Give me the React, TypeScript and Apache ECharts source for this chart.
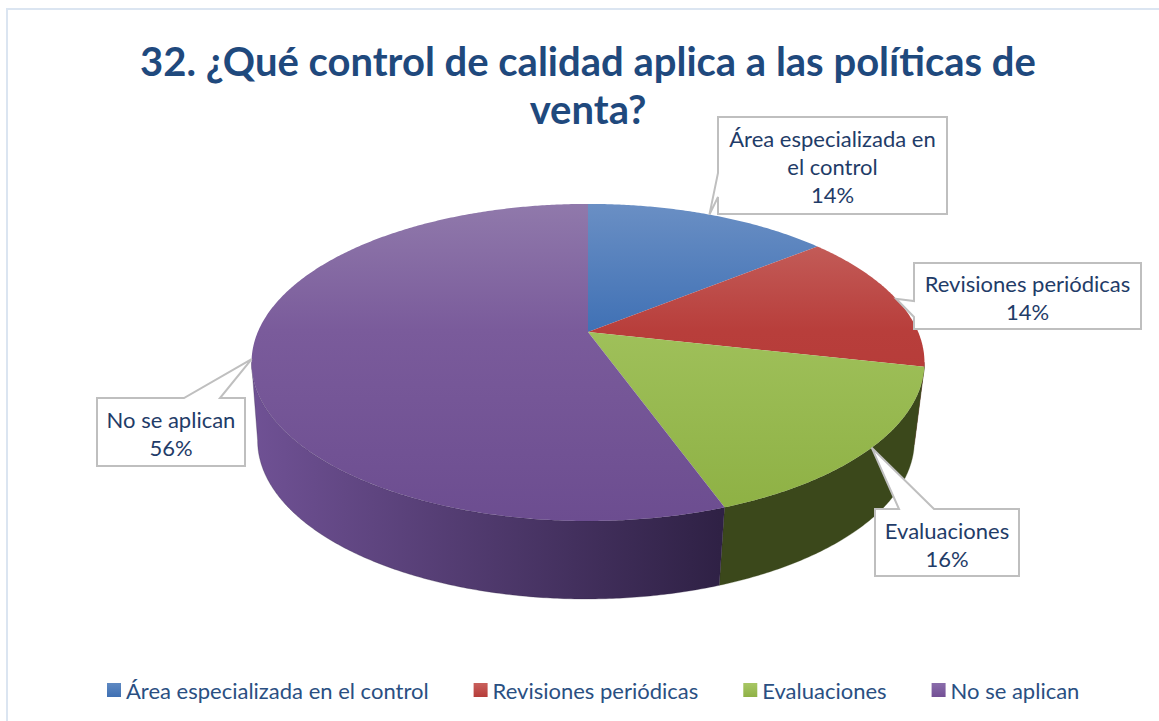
import React, { useEffect, useRef } from "react";
import * as echarts from "echarts";

const titleText = "32. ¿Qué control de calidad aplica a las políticas de\nventa?";
const categories = ["Área especializada en el control", "Revisiones periódicas", "Evaluaciones", "No se aplican"];
const wrappedNames = ["Área especializada en\nel control", "Revisiones periódicas", "Evaluaciones", "No se aplican"];
const shares = [14.2, 14.3, 16.0, 55.5];

const topStops = [
  ["#6a8fc4", "#4071b5", "#3a6aad"],
  ["#c86a66", "#b83e3b", "#b03533"],
  ["#aacb66", "#9fc05a", "#8db043"],
  ["#9079ab", "#7a5b9b", "#6c4d90"],
];
const sideStops = [
  ["#2e4a70", "#2e4a70"],
  ["#6e2523", "#6e2523"],
  ["#3f4e1e", "#3b481b"],
  ["#6f5194", "#2f2145"],
];
const legendStops = [
  ["#5f89c2", "#3f70b3"],
  ["#c9605c", "#b53c39"],
  ["#a8c765", "#8fb146"],
  ["#8a6dab", "#734f95"],
];

// Perspective ellipse geometry of the pie disc
const geo = { cx: 588, cy: 332, A: 330.2, B: 152.7, k: -0.192, depth: 78, shrink: 0.976, shiftX: -2 };

// Callout boxes: box [x0,y0,x1,y1], edge the pointer leaves from, pointer base along that edge
const callouts = [
  { box: [718, 117, 947, 214], edge: "left", base: [173, 197], textY: 166 },
  { box: [914, 263, 1141, 329], edge: "left", base: [301, 317], textY: 297 },
  { box: [875, 509, 1019, 576], edge: "top", base: [899, 934], textY: 544 },
  { box: [97, 398, 245, 466], edge: "top", base: [184, 220], textY: 433 },
];

const total = shares.reduce((a, b) => a + b, 0);
const cum: number[] = [0];
shares.forEach((v) => cum.push(cum[cum.length - 1] + v));
const angleOf = (c: number) => (c / total) * 360;

function topPoint(deg: number): [number, number] {
  const r = (deg * Math.PI) / 180;
  const X = Math.sin(r);
  const Y = -Math.cos(r);
  const d = 1 + geo.k * Y;
  return [geo.cx + (geo.A * X) / d, geo.cy + (geo.B * Y) / d];
}
function bottomPoint(deg: number): [number, number] {
  const [x, y] = topPoint(deg);
  return [geo.cx + geo.shiftX + geo.shrink * (x - geo.cx), y + geo.depth];
}
function arc(a0: number, a1: number, fn: (d: number) => [number, number]) {
  const pts: [number, number][] = [];
  const n = Math.max(2, Math.ceil(Math.abs(a1 - a0) * 2));
  for (let i = 0; i <= n; i++) pts.push(fn(a0 + ((a1 - a0) * i) / n));
  return pts;
}
const vGrad = (c: string[]) => ({
  type: "linear", x: 0, y: 204, x2: 0, y2: 521, global: true,
  colorStops: [{ offset: 0, color: c[0] }, { offset: 0.4, color: c[1] }, { offset: 1, color: c[2] }],
});
const hGrad = (c: string[]) => ({
  type: "linear", x: 255, y: 0, x2: 720, y2: 0, global: true,
  colorStops: [{ offset: 0, color: c[0] }, { offset: 1, color: c[1] }],
});
const localGrad = (c: string[]) => ({
  type: "linear", x: 0, y: 0, x2: 0, y2: 1,
  colorStops: [{ offset: 0, color: c[0] }, { offset: 1, color: c[1] }],
});

const SIDE_FROM = 101;
const SIDE_TO = 259;

function sliceRenderer(i: number) {
  return () => {
    const a0 = angleOf(cum[i]);
    const a1 = angleOf(cum[i + 1]);
    const children: any[] = [];
    const s0 = Math.max(a0, SIDE_FROM);
    const s1 = Math.min(a1, SIDE_TO);
    if (s1 > s0) {
      const pts = [...arc(s0, s1, topPoint), ...arc(s1, s0, bottomPoint)];
      children.push({
        type: "polygon",
        shape: { points: pts },
        style: { fill: hGrad(sideStops[i]), stroke: sideStops[i][1], lineWidth: 0.3 },
      });
    }
    children.push({
      type: "polygon",
      shape: { points: [[geo.cx, geo.cy], ...arc(a0, a1, topPoint)] },
      style: { fill: vGrad(topStops[i]) },
    });
    return { type: "group", children };
  };
}

function calloutRenderer() {
  return (params: any) => {
    const i = params.dataIndex;
    const c = callouts[i];
    const [x0, y0, x1, y1] = c.box;
    const tip = topPoint(angleOf((cum[i] + cum[i + 1]) / 2));
    const pts: number[][] =
      c.edge === "left"
        ? [[x0, y0], [x1, y0], [x1, y1], [x0, y1], [x0, c.base[1]], tip, [x0, c.base[0]]]
        : [[x0, y0], [c.base[0], y0], tip, [c.base[1], y0], [x1, y0], [x1, y1], [x0, y1]];
    const pct = Math.round((shares[i] / total) * 100);
    return {
      type: "group",
      children: [
        {
          type: "polygon",
          shape: { points: pts },
          style: { fill: "#ffffff", stroke: "#bfbfbf", lineWidth: 2 },
        },
        {
          type: "text",
          style: {
            text: `${wrappedNames[i]}\n${pct}%`,
            x: (x0 + x1) / 2,
            y: c.textY,
            align: "center",
            verticalAlign: "middle",
            lineHeight: 28,
            fill: "#1f3c68",
            font: '22px Lato, "Open Sans", sans-serif',
          },
        },
      ],
    };
  };
}

export default function App() {
  const ref = useRef<HTMLDivElement>(null);
  useEffect(() => {
    document.body.style.margin = "0";
    document.body.style.overflow = "hidden";
    const chart = echarts.init(ref.current!, undefined, { renderer: "svg" });
    chart.setOption({
      animation: false,
      backgroundColor: "#ffffff",
      title: {
        text: titleText,
        left: 583,
        top: 32,
        textAlign: "center",
        textStyle: { fontFamily: "Lato, sans-serif", fontWeight: "bold", fontSize: 40, lineHeight: 48, color: "#1f497d" },
      },
      legend: {
        data: categories,
        left: 102,
        top: 674,
        icon: "rect",
        itemWidth: 14,
        itemHeight: 14,
        itemGap: 45,
        selectedMode: false,
        textStyle: { fontFamily: "Lato, sans-serif", fontSize: 22, color: "#2a4f82" },
      },
      graphic: [
        {
          type: "rect",
          silent: true,
          shape: { x: 7, y: 9, width: 1170, height: 730 },
          style: { fill: "none", stroke: "#dbe5f1", lineWidth: 2 },
          z: 0,
        },
      ],
      series: [
        ...categories.map((name, i) => ({
          type: "custom",
          name,
          coordinateSystem: "none",
          silent: true,
          data: [shares[i]],
          itemStyle: { color: localGrad(legendStops[i]) },
          renderItem: sliceRenderer(i),
          z: 2,
        })),
        {
          type: "custom",
          name: "callouts",
          coordinateSystem: "none",
          silent: true,
          data: shares,
          renderItem: calloutRenderer(),
          z: 3,
        },
      ],
    });
    return () => chart.dispose();
  }, []);
  return <div ref={ref} style={{ position: "absolute", left: 0, top: 0, width: 1159, height: 721 }} />;
}
